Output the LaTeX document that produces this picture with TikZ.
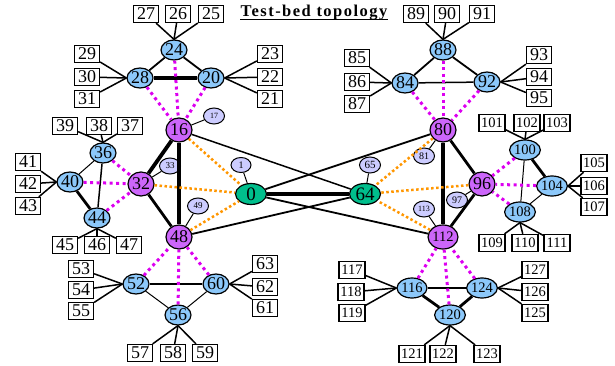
\documentclass[tikz,border=0pt]{standalone}
\usepackage{fontspec}
\setmainfont{Liberation Serif}
\usetikzlibrary{shapes.geometric}
\definecolor{bedblue}{RGB}{140,200,250}
\definecolor{bedpurple}{RGB}{204,102,250}
\definecolor{bedgreen}{RGB}{0,190,140}
\definecolor{bedlilac}{RGB}{204,204,255}
\definecolor{bedmagenta}{RGB}{220,0,240}
\definecolor{bedorange}{RGB}{255,150,0}

\begin{document}
\begin{tikzpicture}[x=1pt, y=-1pt,
    lan/.style={ellipse, draw, line width=1.2pt, fill=bedblue, inner sep=0pt,
      minimum width=26pt, minimum height=20pt, font=\fontsize{18pt}{18pt}\selectfont},
    lan3/.style={lan, font=\fontsize{14.5pt}{14.5pt}\selectfont},
    hub/.style={lan, fill=bedpurple, minimum height=24pt},
    hub3/.style={hub, font=\fontsize{14.5pt}{14.5pt}\selectfont},
    core/.style={lan, fill=bedgreen, minimum width=31pt, minimum height=21pt,
      font=\fontsize{19pt}{19pt}\selectfont},
    probe/.style={ellipse, draw, line width=1pt, fill=bedlilac, inner sep=0pt,
      minimum width=21pt, minimum height=16pt, font=\fontsize{9pt}{9pt}\selectfont},
    port/.style={draw, line width=1.3pt, fill=white, inner sep=0pt,
      minimum width=25pt, minimum height=17pt, font=\fontsize{18pt}{18pt}\selectfont},
    port3/.style={port, minimum width=26pt, font=\fontsize{14.5pt}{14.5pt}\selectfont},
    link/.style={line width=1.5pt},
    thinlink/.style={line width=1pt},
    medlink/.style={line width=1.8pt},
    thicklink/.style={line width=2.8pt},
    trunk/.style={line width=3.8pt},
    vlan/.style={bedmagenta, line width=3pt, dash pattern=on 3pt off 3.5pt},
    cross/.style={bedorange, line width=2.5pt, dash pattern=on 2.5pt off 2.5pt}]
    \useasboundingbox (0,0) rectangle (615,366);

    % Title
    \node[anchor=base, inner sep=0pt, font=\fontsize{16.5pt}{16.5pt}\selectfont\bfseries\addfontfeatures{LetterSpace=9}]
      (title) at (314,17) {Test-bed topology};
    \draw[line width=1.3pt] ([yshift=-2.5pt]title.base west) -- ([yshift=-2.5pt]title.base east);

    % Core
    \node[core] (n0) at (251,194) {0};
    \node[core] (n64) at (365,194) {64};
    \node[probe, minimum width=20pt, minimum height=15pt, font=\fontsize{10pt}{10pt}\selectfont] (n1) at (241,165) {1};
    \node[probe, font=\fontsize{11pt}{11pt}\selectfont] (n65) at (370,165) {65};

    % Left hubs
    \node[hub] (n16) at (179,130) {16};
    \node[hub] (n32) at (141,184) {32};
    \node[hub] (n48) at (179,237) {48};
    \node[probe, font=\fontsize{8pt}{8pt}\selectfont] (n17) at (214,116) {17};
    \node[probe] (n33) at (170,166) {33};
    \node[probe] (n49) at (198,206) {49};

    % Right hubs
    \node[hub] (n80) at (443,130) {80};
    \node[hub] (n96) at (482,184) {96};
    \node[hub3] (n112) at (443,237) {112};
    \node[probe, font=\fontsize{10pt}{10pt}\selectfont] (n81) at (424,156) {81};
    \node[probe, font=\fontsize{10pt}{10pt}\selectfont] (n97) at (457,200) {97};
    \node[probe, font=\fontsize{8pt}{8pt}\selectfont] (n113) at (424,209) {113};

    % Leaf LANs
    \node[lan] (n24) at (174,50) {24};
    \node[lan] (n28) at (140,78) {28};
    \node[lan] (n20) at (211,78) {20};
    \node[lan] (n36) at (103,153) {36};
    \node[lan] (n40) at (70,182) {40};
    \node[lan] (n44) at (97,218) {44};
    \node[lan] (n52) at (136,284) {52};
    \node[lan] (n60) at (216,284) {60};
    \node[lan] (n56) at (178,315) {56};
    \node[lan] (n88) at (443,50) {88};
    \node[lan] (n84) at (405,83) {84};
    \node[lan] (n92) at (487,82) {92};
    \node[lan3] (n100) at (525,150) {100};
    \node[lan3] (n104) at (552,186) {104};
    \node[lan3] (n108) at (520,212) {108};
    \node[lan3] (n116) at (412,288) {116};
    \node[lan3] (n124) at (482,288) {124};
    \node[lan3] (n120) at (450,315) {120};

    % Hosts
    \foreach \n/\x/\y in {27/146/14, 26/178/14, 25/211/14, 29/87/54, 30/87/77, 31/87/99,
        23/270/54, 22/270/77, 21/270/99, 39/65/126, 38/99/126, 37/130/126,
        41/28/162, 42/28/184, 43/28/206, 45/65/245, 46/97/245, 47/129/245,
        53/81/269, 54/81/290, 55/81/311, 63/265/264, 62/265/287, 61/265/308,
        57/140/353, 58/173/353, 59/205/353, 89/416/14, 90/447/14, 91/482/14,
        85/357/58, 86/357/82, 87/357/104, 93/539/55, 94/539/77, 95/539/98}
      \node[port] (b\n) at (\x,\y) {\n};
    \foreach \n/\x/\y in {101/492/123, 102/527/123, 103/557/123, 105/594/163, 106/594/186, 107/594/207,
        109/492/243, 110/525/243, 111/557/243, 117/352/270, 118/351/292, 119/352/313,
        127/535/270, 126/535/292, 125/535/313, 121/412/354, 122/443/354, 123/487/354}
      \node[port3] (b\n) at (\x,\y) {\n};

    % Host links
    \foreach \n in {27,26,25} \draw[link] (b\n) -- (n24.north);
    \foreach \n in {29,30,31} \draw[link] (b\n) -- (n28.west);
    \foreach \n in {23,22,21} \draw[link] (b\n) -- (n20.east);
    \foreach \n in {39,38,37} \draw[link] (b\n) -- (n36.north);
    \foreach \n in {41,42,43} \draw[link] (b\n) -- (n40.west);
    \foreach \n in {45,46,47} \draw[link] (b\n) -- (n44.south);
    \foreach \n in {53,54,55} \draw[link] (b\n) -- (n52.west);
    \foreach \n in {63,62,61} \draw[link] (b\n) -- (n60.east);
    \foreach \n in {57,58,59} \draw[link] (b\n) -- (n56.south);
    \foreach \n in {89,90,91} \draw[link] (b\n) -- (n88.north);
    \foreach \n in {85,86,87} \draw[link] (b\n) -- (n84.west);
    \foreach \n in {93,94,95} \draw[link] (b\n) -- (n92.east);
    \foreach \n in {101,102,103} \draw[link] (b\n) -- (n100.north);
    \foreach \n in {105,106,107} \draw[link] (b\n) -- (n104.east);
    \foreach \n in {109,110,111} \draw[link] (b\n) -- (n108.south);
    \foreach \n in {117,118,119} \draw[link] (b\n) -- (n116.west);
    \foreach \n in {127,126,125} \draw[link] (b\n) -- (n124.east);
    \foreach \n in {121,122,123} \draw[link] (b\n) -- (n120.south);

    % Leaf LAN links
    \draw[medlink] (n24) -- (n28);
    \draw[medlink] (n24) -- (n20);
    \draw[trunk] (n28) -- (n20);
    \draw[thinlink] (n36) -- (n40);
    \draw[link] (n36) -- (n44);
    \draw[thicklink] (n40) -- (n44);
    \draw[medlink] (n52) -- (n60);
    \draw[thinlink] (n52) -- (n56);
    \draw[thinlink] (n60) -- (n56);
    \draw[medlink] (n88) -- (n84);
    \draw[medlink] (n88) -- (n92);
    \draw[link] (n84) -- (n92);
    \draw[thicklink] (n100) -- (n104);
    \draw[thinlink] (n100) -- (n108);
    \draw[thinlink] (n104) -- (n108);
    \draw[medlink] (n116) -- (n124);
    \draw[thicklink] (n116) -- (n120);
    \draw[thicklink] (n124) -- (n120);

    % Hub links
    \draw[trunk] (n16) -- (n32);
    \draw[trunk] (n16) -- (n48);
    \draw[thicklink] (n32) -- (n48);
    \draw[thicklink] (n80) -- (n96);
    \draw[trunk] (n80) -- (n112);
    \draw[thicklink] (n96) -- (n112);
    \draw[thinlink] (n16) -- (n17);
    \draw[thinlink] (n32) -- (n33);
    \draw[thinlink] (n48) -- (n49);
    \draw[thinlink] (n80) -- (n81);
    \draw[thinlink] (n96) -- (n97);
    \draw[thinlink] (n112) -- (n113);

    % Core links
    \draw[trunk] (n0) -- (n64);
    \draw[thinlink] (n0) -- (n1);
    \draw[thinlink] (n64) -- (n65);
    \draw[link] (n16) -- (n64);
    \draw[medlink] (n48) -- (n64);
    \draw[medlink] (n0) -- (n80);
    \draw[medlink] (n0) -- (n112);

    % Orange dotted
    \foreach \h in {16,32,48} \draw[cross] (n\h) -- (n0);
    \foreach \h in {80,96,112} \draw[cross] (n\h) -- (n64);

    % Magenta dotted
    \foreach \l in {28,24,20} \draw[vlan] (n\l) -- (n16);
    \foreach \l in {36,40,44} \draw[vlan] (n\l) -- (n32);
    \foreach \l in {52,56,60} \draw[vlan] (n\l) -- (n48);
    \foreach \l in {84,88,92} \draw[vlan] (n\l) -- (n80);
    \foreach \l in {100,104,108} \draw[vlan] (n\l) -- (n96);
    \foreach \l in {116,120,124} \draw[vlan] (n\l) -- (n112);
\end{tikzpicture}
\end{document}
